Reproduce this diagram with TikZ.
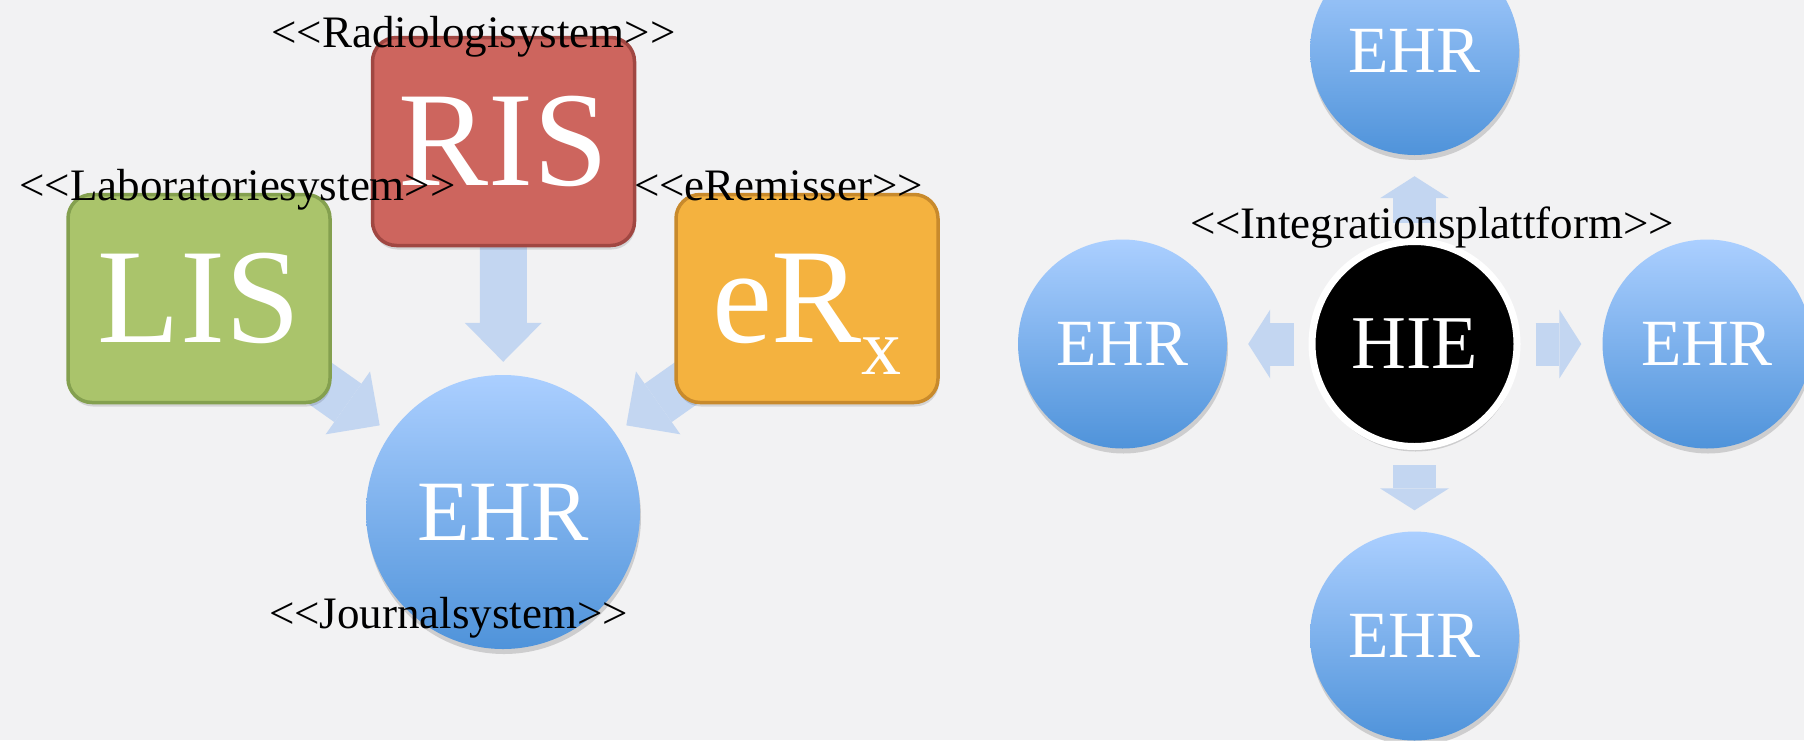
\documentclass[tikz,border=0pt]{standalone}
\usepackage{fontspec}
\setmainfont{Liberation Serif}
\usepackage{tikz}
\usetikzlibrary{arrows.meta,shadows}

\definecolor{paper}{HTML}{F2F2F3}
\definecolor{lisgreen}{HTML}{AAC46B}
\definecolor{lisgreendark}{HTML}{84A04F}
\definecolor{risred}{HTML}{CD655E}
\definecolor{risreddark}{HTML}{A04742}
\definecolor{erxorange}{HTML}{F4B23F}
\definecolor{erxorangedark}{HTML}{C88A2C}
\definecolor{ehrtop}{HTML}{ABCFFF}
\definecolor{ehrbottom}{HTML}{4F93DA}
\definecolor{arrowblue}{HTML}{C3D6F1}

\pgfdeclarelayer{paper}
\pgfdeclarelayer{behind}
\pgfsetlayers{paper,behind,main}

\newcommand{\stereo}[1]{<\kern0pt<#1>\kern0pt>}

\begin{document}
\begin{tikzpicture}[x=1pt, y=-1pt]
    \tikzstyle{system box} = [rectangle, rounded corners=24pt, line width=3.5pt, minimum width=262pt, minimum height=208pt, inner sep=0pt, text=white, font=\fontsize{135}{135}\selectfont, drop shadow={opacity=0.12, shadow xshift=1pt, shadow yshift=-4pt, fill=black}]
    \tikzstyle{ehr vertex} = [circle, inner sep=0pt, minimum size=209pt, top color=ehrtop, bottom color=ehrbottom, text=white, font=\fontsize{66}{66}\selectfont, drop shadow={opacity=0.15, shadow xshift=1pt, shadow yshift=-5pt, fill=black}]
    \tikzstyle{stereotype} = [anchor=base, inner sep=0pt, font=\fontsize{45}{45}\selectfont]
    \tikzstyle{big arrow} = [draw=arrowblue, line width=47pt, -{Triangle[width=77pt, length=39pt, line width=0pt]}]
    \tikzstyle{small arrow} = [draw=arrowblue, line width=43pt, -{Triangle[width=69pt, length=22pt, line width=0pt]}, shorten <=15pt, shorten >=21pt]
\useasboundingbox (0,0) rectangle (1804,740);
\begin{pgfonlayer}{paper}
\fill[paper] (0,0) rectangle (1804,740);
\end{pgfonlayer}
% left: systems feeding the journal
\node[system box, fill=lisgreen, draw=lisgreendark] (lis) at (199, 298.5) {LIS};
\node[system box, fill=risred, draw=risreddark] (ris) at (503.5, 141.5) {RIS};
\node[system box, fill=erxorange, draw=erxorangedark, text depth=0pt] (erx) at (807, 298.5) {eR\raisebox{-32pt}{\fontsize{80}{80}\selectfont x}};
\node[ehr vertex, minimum size=274pt, font=\fontsize{86}{86}\selectfont] (ehr) at (503, 512) {EHR};
% right: HIE in the middle
\node[circle, inner sep=0pt, minimum size=205pt, fill=black, draw=white, line width=7pt, text=white, font=\fontsize{76}{76}\selectfont, drop shadow={opacity=0.15, shadow xshift=1pt, shadow yshift=-5pt, fill=black}] (hie) at (1414.5, 344) {HIE};
\node[ehr vertex] (ehrnorth) at (1414.5, 50.5) {EHR};
\node[ehr vertex] (ehrsouth) at (1414.5, 636) {EHR};
\node[ehr vertex] (ehrwest) at (1122.5, 344) {EHR};
\node[ehr vertex] (ehreast) at (1707, 344) {EHR};
\begin{pgfonlayer}{behind}
\draw[big arrow, shorten <=-57pt, shorten >=13.5pt] (lis) to (ehr);
\draw[big arrow, shorten <=-10pt, shorten >=13pt] (ris) to (ehr);
\draw[big arrow, shorten <=-57pt, shorten >=13.5pt] (erx) to (ehr);
\draw[small arrow] (hie) to (ehrnorth);
\draw[small arrow] (hie) to (ehrsouth);
\draw[small arrow] (hie) to (ehrwest);
\draw[small arrow] (hie) to (ehreast);
\end{pgfonlayer}
% stereotypes
\node[stereotype] (rislabel) at (473.5, 47) {\stereo{Radiologisystem}};
\node[stereotype] (lislabel) at (237.5, 200) {\stereo{Laboratoriesystem}};
\node[stereotype] (erxlabel) at (778.5, 200) {\stereo{eRemisser}};
\node[stereotype] (ehrlabel) at (448.5, 628) {\stereo{Journalsystem}};
\node[stereotype] (hielabel) at (1432, 238) {\stereo{Integrationsplattform}};
\end{tikzpicture}
\end{document}
